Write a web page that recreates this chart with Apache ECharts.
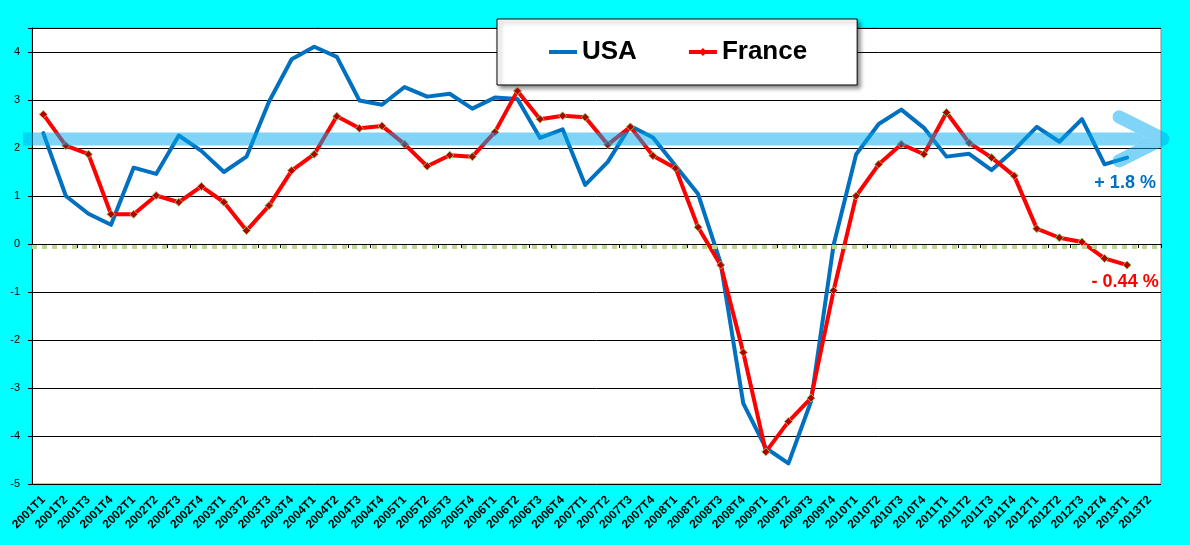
<!DOCTYPE html>
<html>
<head>
<meta charset="utf-8">
<script src="https://cdn.jsdelivr.net/npm/echarts@6/dist/echarts.min.js"></script>
<style>
html,body{margin:0;padding:0;background:#00ffff;}
#chart{width:1190px;height:545px;}
</style>
</head>
<body>
<div id="chart"></div>
<script>
const categories = [
  '2001T1','2001T2','2001T3','2001T4','2002T1','2002T2','2002T3','2002T4',
  '2003T1','2003T2','2003T3','2003T4','2004T1','2004T2','2004T3','2004T4',
  '2005T1','2005T2','2005T3','2005T4','2006T1','2006T2','2006T3','2006T4',
  '2007T1','2007T2','2007T3','2007T4','2008T1','2008T2','2008T3','2008T4',
  '2009T1','2009T2','2009T3','2009T4','2010T1','2010T2','2010T3','2010T4',
  '2011T1','2011T2','2011T3','2011T4','2012T1','2012T2','2012T3','2012T4',
  '2013T1','2013T2'
];
const usaValues = [
  2.31, 1.0, 0.63, 0.4, 1.59, 1.46, 2.26, 1.94,
  1.5, 1.82, 2.97, 3.85, 4.11, 3.9, 2.99, 2.9,
  3.27, 3.07, 3.13, 2.82, 3.05, 3.02, 2.21, 2.39,
  1.23, 1.71, 2.46, 2.22, 1.63, 1.04, -0.4, -3.32,
  -4.25, -4.57, -3.28, -0.02, 1.87, 2.5, 2.8, 2.42,
  1.82, 1.88, 1.54, 1.96, 2.44, 2.13, 2.6, 1.66,
  1.8
];
const franceValues = [
  2.7, 2.05, 1.87, 0.62, 0.62, 1.01, 0.87, 1.2,
  0.87, 0.28, 0.8, 1.53, 1.87, 2.66, 2.41, 2.46,
  2.08, 1.62, 1.85, 1.82, 2.33, 3.19, 2.6, 2.67,
  2.64, 2.07, 2.44, 1.84, 1.58, 0.35, -0.44, -2.26,
  -4.33, -3.7, -3.21, -0.97, 1.0, 1.66, 2.08, 1.87,
  2.74, 2.11, 1.8, 1.42, 0.32, 0.13, 0.04, -0.3,
  -0.44
];
const usaLabel = '+ 1.8 %';
const franceLabel = '- 0.44 %';
const arrowLevel = 2.19;
const zeroRefLevel = -0.06;

const chart = echarts.init(document.getElementById('chart'));
const font = 'Liberation Sans, Arial, sans-serif';

const usaIcon = 'path://M0,0 L0.01,0 Z M0,5 L28,5 L28,9 L0,9 Z M0,14 L0.01,14 Z';
const franceIcon = 'path://M0,0 L0.01,0 Z M0,5 L28,5 L28,9 L0,9 Z M14,3 L18,7 L14,11 L10,7 Z M0,14 L0.01,14 Z';

chart.setOption({
  backgroundColor: '#00ffff',
  animation: false,
  grid: {left: 32, right: 29, top: 28, bottom: 61, show: true,
         backgroundColor: '#ffffff', borderColor: '#8c8c8c', borderWidth: 1},
  legend: {
    left: 497, top: 19,
    padding: [20, 50, 20, 52],
    itemGap: 52, itemWidth: 28, itemHeight: 14,
    backgroundColor: '#ffffff', borderColor: '#000000', borderWidth: 1,
    shadowBlur: 4, shadowColor: 'rgba(0,0,0,0.45)', shadowOffsetX: 3, shadowOffsetY: 3,
    textStyle: {fontSize: 26, fontWeight: 'bold', fontFamily: font, color: '#000'},
    data: [
      {name: 'USA', icon: usaIcon, itemStyle: {color: '#0070c0', borderWidth: 0}},
      {name: 'France', icon: franceIcon, itemStyle: {color: '#ff0000', borderWidth: 0}}
    ]
  },
  xAxis: {
    type: 'category', data: categories, boundaryGap: true,
    axisLine: {lineStyle: {color: '#000', width: 1}},
    axisTick: {show: true, interval: 0, length: 4, lineStyle: {color: '#000'}},
    axisLabel: {interval: 0, rotate: 45, margin: 14, fontSize: 12, fontWeight: 'bold',
                fontFamily: font, color: '#000'},
    splitLine: {show: false}
  },
  yAxis: {
    type: 'value', min: -5, max: 4.5, interval: 1,
    axisLine: {show: true, lineStyle: {color: '#000', width: 1}},
    axisTick: {show: true, length: 4, lineStyle: {color: '#000'}},
    axisLabel: {fontSize: 11, fontFamily: font, color: '#000', margin: 12,
                formatter: v => (Number.isInteger(v) ? String(v) : '')},
    splitLine: {show: true, lineStyle: {color: '#000', width: 1}}
  },
  series: [
    {
      name: 'USA', type: 'line', data: usaValues,
      symbol: 'none', z: 3,
      lineStyle: {color: '#0070c0', width: 4, cap: 'round', join: 'round'},
      itemStyle: {color: '#0070c0'},
      markPoint: {
        symbol: 'circle', symbolSize: 1, silent: true,
        itemStyle: {color: 'rgba(0,0,0,0)'},
        label: {show: true, formatter: usaLabel, position: 'inside', offset: [-2, 25],
                color: '#0070c0', fontSize: 18, fontWeight: 'bold', fontFamily: font},
        data: [{coord: [categories[48], usaValues[48]]}]
      }
    },
    {
      name: 'France', type: 'line', data: franceValues,
      symbol: 'diamond', symbolSize: 8, showAllSymbol: true, z: 4,
      lineStyle: {color: '#ff0000', width: 4, join: 'round'},
      itemStyle: {color: '#b00000', borderColor: '#9bbb59', borderWidth: 1},
      markPoint: {
        symbol: 'circle', symbolSize: 1, silent: true,
        itemStyle: {color: 'rgba(0,0,0,0)'},
        label: {show: true, formatter: franceLabel, position: 'inside', offset: [-2, 17],
                color: '#ff0000', fontSize: 18, fontWeight: 'bold', fontFamily: font},
        data: [{coord: [categories[48], franceValues[48]]}]
      },
      markLine: {
        silent: true, symbol: 'none', label: {show: false},
        lineStyle: {color: '#bfd690', width: 4, type: [5, 5], opacity: 1},
        data: [{yAxis: zeroRefLevel}]
      }
    }
  ]
});

function drawArrow() {
  const p0 = chart.convertToPixel({xAxisIndex: 0, yAxisIndex: 0}, [0, arrowLevel]);
  const p1 = chart.convertToPixel({xAxisIndex: 0, yAxisIndex: 0}, [1, arrowLevel]);
  const band = p1[0] - p0[0];
  const leftEdge = p0[0] - band / 2;
  const rightEdge = leftEdge + band * categories.length;
  const y = p0[1];
  const half = 6.5;
  const vx = rightEdge + 2;
  const dx = 44, dy = 22;
  const len = Math.sqrt(dx * dx + dy * dy);
  const innerV = vx - half * len / dy;
  const notch = innerV - half * dx / dy;
  const color = 'rgba(0,170,240,0.5)';
  chart.setOption({
    graphic: [
      {type: 'polygon', silent: true, z: 100,
       shape: {points: [[leftEdge - 9, y - half], [notch, y - half], [innerV, y],
                        [notch, y + half], [leftEdge - 9, y + half]]},
       style: {fill: color}},
      {type: 'polyline', silent: true, z: 100,
       shape: {points: [[vx - dx, y - dy], [vx, y], [vx - dx, y + dy]]},
       style: {stroke: color, lineWidth: 13, lineCap: 'round', lineJoin: 'round', fill: null}}
    ]
  });
}
drawArrow();
</script>
</body>
</html>
